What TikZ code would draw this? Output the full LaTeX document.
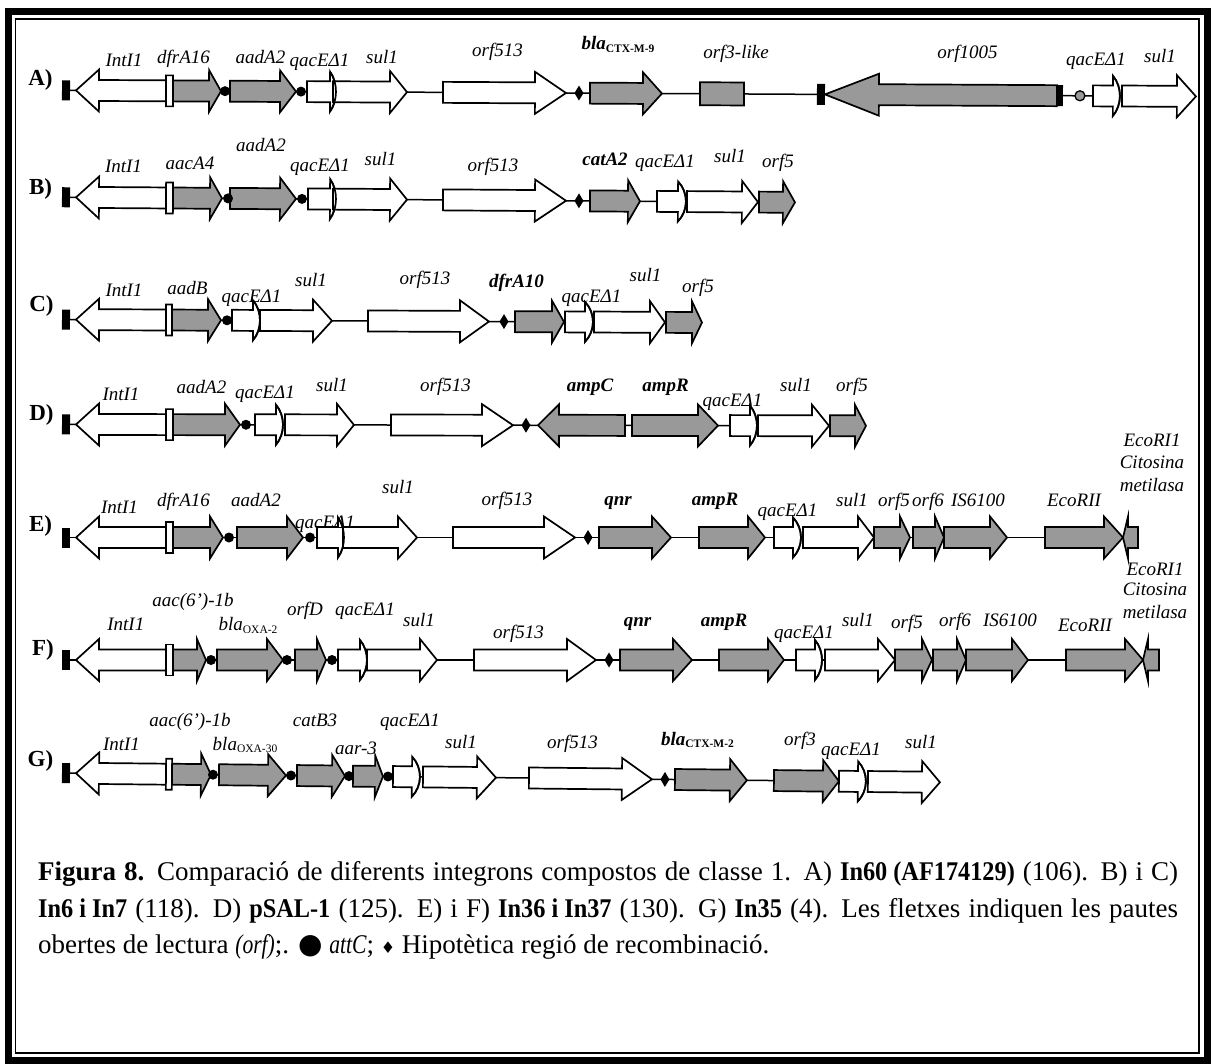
\documentclass[tikz,border=0pt]{standalone}
\usepackage{fontspec}
\setmainfont{Liberation Serif}
\newfontfamily\symf{DejaVu Sans}
\usepackage{graphicx}
\definecolor{gfill}{RGB}{153,153,153}
\tikzset{
  gbox/.style={draw=black, line width=1.7pt},
  bb/.style={draw=black, line width=1.5pt},
  lab/.style={font=\fontsize{19}{21}\selectfont\itshape, inner sep=0pt, anchor=base},
  blab/.style={font=\fontsize{19}{21}\selectfont\bfseries\itshape, inner sep=0pt, anchor=base},
  rowlab/.style={font=\fontsize{23}{25}\selectfont\bfseries, inner sep=0pt, anchor=base},
  captxt/.style={font=\fontsize{27}{30}\selectfont, inner sep=0pt, anchor=base west},
}
% right arrow: shaft start, head base, tip, y, fill
\newcommand{\gRA}[5]{\draw[gbox,fill=#5] (#1,#4-10.5) -- (#2,#4-10.5) -- (#2,#4-21) -- (#3,#4) -- (#2,#4+21) -- (#2,#4+10.5) -- (#1,#4+10.5) -- cycle;}
% left arrow: tip, head base, tail, y, fill
\newcommand{\gLA}[5]{\draw[gbox,fill=#5] (#1,#4) -- (#2,#4-21) -- (#2,#4-10.5) -- (#3,#4-10.5) -- (#3,#4+10.5) -- (#2,#4+10.5) -- (#2,#4+21) -- cycle;}
% qacE with curved head: start, head base, bulge, y
\newcommand{\gQA}[4]{\draw[gbox,fill=white] (#1,#4-10.5) -- (#2,#4-10.5) -- (#2,#4-20) .. controls ({#2+1.33*#3},#4-9) and ({#2+1.33*#3},#4+9) .. (#2,#4+20) -- (#2,#4+10.5) -- (#1,#4+10.5) -- cycle;}
\newcommand{\gQC}[3]{\draw[gbox] (#1,#3-20) .. controls ({#1+1.33*#2},#3-9) and ({#1+1.33*#2},#3+9) .. (#1,#3+20);}
\newcommand{\gDOT}[2]{\fill (#1,#2) circle (5pt);}
\newcommand{\gDIA}[2]{\fill (#1,#2-7.5) -- (#1+4.5,#2) -- (#1,#2+7.5) -- (#1-4.5,#2) -- cycle;}
\newcommand{\gBAR}[1]{\fill (62,#1-10) rectangle (70,#1+10);}
\newcommand{\gSITE}[2]{\draw[gbox,fill=white] (166,#2-15.5) rectangle (#1,#2+15.5);}
\newcommand{\blasub}[2]{#1\raisebox{-2.5pt}{\fontsize{11.5}{12}\selectfont\upshape #2}}
\newcommand{\cb}[1]{\scalebox{0.9}[1]{\bfseries #1}}
\begin{document}
\begin{tikzpicture}[x=1pt,y=-1pt]
\useasboundingbox (0,0) rectangle (1212,1064);
\fill[white] (0,0) rectangle (1212,1064);
% frame
\draw[line width=7pt] (8.5,11.5) rectangle (1207,1060.5);
\draw[line width=1.6pt] (15.5,19) rectangle (1199,1053);

% ---------- Row A ----------
\def\ry{90.5}
\begin{scope}[rotate around={-0.31:(100,\ry)}]
\draw[bb] (70,\ry) -- (1100,\ry);
\gBAR{\ry}
\gLA{76}{99}{166}{\ry}{white}
\gSITE{173}{\ry}
\gRA{173}{209}{221}{\ry}{gfill}
\gRA{230}{280}{296}{\ry}{gfill}
\gQA{307}{330}{6}{\ry}
\gRA{333}{390}{407}{\ry}{white}
\gQC{330}{6}{\ry}
\gRA{443}{535}{566}{\ry}{white}
\gRA{590}{643}{662}{\ry}{gfill}
\draw[gbox,fill=gfill] (700,\ry-11.5) rectangle (744,\ry+11.5);
\fill (817,\ry-10.5) rectangle (825,\ry+10.5);
\gLA{825}{879}{1057}{\ry}{gfill}
\fill (1057,\ry-10.5) rectangle (1063,\ry+10.5);
\draw[line width=1.3pt,fill=gfill] (1080,\ry) circle (5pt);
\gQA{1093}{1113}{7}{\ry}
\gRA{1122}{1177}{1196}{\ry}{white}
\gQC{1113}{7}{\ry}
\gDOT{225}{\ry}\gDOT{301}{\ry}
\gDIA{579}{\ry}
\end{scope}
\node[rowlab] (rA) at (40.5,86) {A)};
\node[lab] (a1) at (124,66.7) {IntI1};
\node[lab] (a2) at (183.5,63.3) {dfrA16};
\node[lab] (a3) at (260.5,63.3) {aadA2};
\node[lab] (a4) at (319.5,66.7) {qacEΔ1};
\node[lab] (a5) at (382,64) {sul1};
\node[lab] (a6) at (497.5,56.5) {orf513};
\node[blab] (a7) at (618,50) {\blasub{bla}{\bfseries CTX-M-9}};
\node[lab] (a8) at (736,59) {orf3-like};
\node[lab] (a9) at (967.5,59) {orf1005};
\node[lab] (a10) at (1096,66) {qacEΔ1};
\node[lab] (a11) at (1160,63) {sul1};

% ---------- Row B ----------
\def\ry{197.5}
\begin{scope}[rotate around={-0.4:(100,\ry)}]
\draw[bb] (70,\ry) -- (760,\ry);
\gBAR{\ry}
\gLA{76}{99}{166}{\ry}{white}
\gSITE{173}{\ry}
\gRA{173}{210}{222}{\ry}{gfill}
\gRA{230}{280}{296}{\ry}{gfill}
\gQA{308}{330}{6}{\ry}
\gRA{333}{390}{407}{\ry}{white}
\gQC{330}{6}{\ry}
\gRA{443}{535}{566}{\ry}{white}
\gRA{590}{628}{640}{\ry}{gfill}
\gQA{657}{678}{8}{\ry}
\gRA{687}{742}{758}{\ry}{white}
\gQC{678}{8}{\ry}
\gRA{759}{783}{795}{\ry}{gfill}
\gDOT{228}{\ry}\gDOT{302}{\ry}
\gDIA{579}{\ry}
\end{scope}
\node[rowlab] (rB) at (40.5,195) {B)};
\node[lab] (b1) at (123.5,173) {IntI1};
\node[lab] (b2) at (190,170) {aacA4};
\node[lab] (b3) at (261,152) {aadA2};
\node[lab] (b4) at (320,171.7) {qacEΔ1};
\node[lab] (b5) at (380.5,165.7) {sul1};
\node[lab] (b6) at (493,171.7) {orf513};
\node[blab] (b7) at (605,165.7) {catA2};
\node[lab] (b8) at (665,168) {qacEΔ1};
\node[lab] (b9) at (730,163) {sul1};
\node[lab] (b10) at (778,168) {orf5};

% ---------- Row C ----------
\def\ry{319.7}
\begin{scope}[rotate around={-0.27:(100,\ry)}]
\draw[bb] (70,\ry) -- (667,\ry);
\gBAR{\ry}
\gLA{76}{99}{166}{\ry}{white}
\gSITE{172}{\ry}
\gRA{172}{208}{221}{\ry}{gfill}
\gQA{232}{253}{7}{\ry}
\gRA{260}{313}{332}{\ry}{white}
\gQC{253}{7}{\ry}
\gRA{368}{460}{489}{\ry}{white}
\gRA{515}{552}{564}{\ry}{gfill}
\gQA{565}{585}{8}{\ry}
\gRA{594}{650}{665}{\ry}{white}
\gQC{585}{8}{\ry}
\gRA{666}{692}{702}{\ry}{gfill}
\gDOT{227}{\ry}
\gDIA{504}{\ry}
\end{scope}
\node[rowlab] (rC) at (41.5,311.7) {C)};
\node[lab] (c1) at (124,296.7) {IntI1};
\node[lab] (c2) at (187.5,295) {aadB};
\node[lab] (c3) at (251.5,303) {qacEΔ1};
\node[lab] (c4) at (311,286.7) {sul1};
\node[lab] (c5) at (425,285) {orf513};
\node[blab] (c6) at (516.5,288) {dfrA10};
\node[lab] (c7) at (591.5,303) {qacEΔ1};
\node[lab] (c8) at (645.5,281.7) {sul1};
\node[lab] (c9) at (698,293) {orf5};

% ---------- Row D ----------
\def\ry{424.5}
\begin{scope}[rotate around={-0.1:(100,\ry)}]
\draw[bb] (70,\ry) -- (831,\ry);
\gBAR{\ry}
\gLA{76}{99}{166}{\ry}{white}
\gSITE{173}{\ry}
\gRA{173}{225}{240}{\ry}{gfill}
\gQA{255}{276}{7}{\ry}
\gRA{285}{337}{354}{\ry}{white}
\gQC{276}{7}{\ry}
\gRA{391}{482}{513}{\ry}{white}
\gLA{538}{559}{625}{\ry}{gfill}
\gRA{632}{698}{718}{\ry}{gfill}
\gQA{730}{750}{7}{\ry}
\gRA{758}{812}{829}{\ry}{white}
\gQC{750}{7}{\ry}
\gRA{830}{855}{866}{\ry}{gfill}
\gDOT{246}{\ry}
\gDIA{526}{\ry}
\end{scope}
\node[rowlab] (rD) at (41.5,420) {D)};
\node[lab] (d1) at (121,400) {IntI1};
\node[lab] (d2) at (201.5,393) {aadA2};
\node[lab] (d3) at (265,398) {qacEΔ1};
\node[lab] (d4) at (332,391.7) {sul1};
\node[lab] (d5) at (445.5,391.7) {orf513};
\node[blab] (d6) at (590,391.7) {ampC};
\node[blab] (d7) at (665.5,391.7) {ampR};
\node[lab] (d8) at (732.5,406) {qacEΔ1};
\node[lab] (d9) at (796,391.7) {sul1};
\node[lab] (d10) at (852,391.7) {orf5};

% ---------- Row E ----------
\def\ry{537.5}
\begin{scope}
\draw[bb] (70,\ry) -- (1124,\ry);
\gBAR{\ry}
\gLA{76}{99}{166}{\ry}{white}
\gSITE{173}{\ry}
\gRA{173}{210}{223}{\ry}{gfill}
\gRA{237}{287}{303}{\ry}{gfill}
\gQA{317}{338}{6}{\ry}
\gRA{343}{398}{417}{\ry}{white}
\gQC{338}{6}{\ry}
\gRA{453}{544}{575}{\ry}{white}
\gRA{599}{652}{671}{\ry}{gfill}
\gRA{699}{748}{765}{\ry}{gfill}
\gQA{774}{793}{8}{\ry}
\gRA{803}{858}{874}{\ry}{white}
\gQC{793}{8}{\ry}
\gRA{874}{900}{910}{\ry}{gfill}
\gRA{913}{935}{944}{\ry}{gfill}
\gRA{944}{990}{1007}{\ry}{gfill}
\gRA{1045}{1104}{1123}{\ry}{gfill}
\gLA{1123}{1128}{1138}{\ry}{gfill}
\gDOT{229}{\ry}\gDOT{310}{\ry}
\gDIA{588}{\ry}
\end{scope}
\node[rowlab] (rE) at (40.5,531.7) {E)};
\node[lab] (e1) at (119.5,513.3) {IntI1};
\node[lab] (e2) at (183.5,506.7) {dfrA16};
\node[lab] (e3) at (256,506.7) {aadA2};
\node[lab] (e4) at (325,528) {qacEΔ1};
\node[lab] (e5) at (398,493.3) {sul1};
\node[lab] (e6) at (507,505) {orf513};
\node[blab] (e7) at (618,505) {qnr};
\node[blab] (e8) at (715,505) {ampR};
\node[lab] (e9) at (787.5,516.7) {qacEΔ1};
\node[lab] (e10) at (852,506.7) {sul1};
\node[lab] (e11) at (894,506.7) {orf5};
\node[lab] (e12) at (928,506.7) {orf6};
\node[lab] (e13) at (978,506.7) {IS6100};
\node[lab] (e14) at (1074,506.7) {EcoRII};
\node[lab] (e15) at (1152,446) {EcoRI1};
\node[lab] (e16) at (1152,468) {Citosina};
\node[lab] (e17) at (1152,491.7) {metilasa};

% ---------- Row F ----------
\def\ry{660}
\begin{scope}
\draw[bb] (70,\ry) -- (1144,\ry);
\gBAR{\ry}
\gLA{76}{99}{166}{\ry}{white}
\gSITE{173}{\ry}
\gRA{173}{197}{206}{\ry}{gfill}
\gRA{217}{267}{283}{\ry}{gfill}
\gRA{295}{317}{326}{\ry}{gfill}
\gQA{338}{360}{7}{\ry}
\gRA{367}{420}{437}{\ry}{white}
\gQC{360}{7}{\ry}
\gRA{474}{567}{596}{\ry}{white}
\gRA{620}{673}{692}{\ry}{gfill}
\gRA{719}{768}{784}{\ry}{gfill}
\gQA{796}{815}{7}{\ry}
\gRA{825}{878}{895}{\ry}{white}
\gQC{815}{7}{\ry}
\gRA{895}{922}{932}{\ry}{gfill}
\gRA{933}{957}{966}{\ry}{gfill}
\gRA{966}{1012}{1028}{\ry}{gfill}
\gRA{1066}{1125}{1143}{\ry}{gfill}
\gLA{1143}{1148}{1159}{\ry}{gfill}
\gDOT{211}{\ry}\gDOT{287}{\ry}\gDOT{332}{\ry}
\gDIA{609}{\ry}
\end{scope}
\node[rowlab] (rF) at (43,655) {F)};
\node[lab] (f1) at (125.8,630.7) {IntI1};
\node[lab] (f2) at (193,606.7) {aac(6’)-1b};
\node[lab] (f3) at (248,630.7) {\blasub{bla}{OXA-2}};
\node[lab] (f4) at (305,615) {orfD};
\node[lab] (f5) at (365,615) {qacEΔ1};
\node[lab] (f6) at (419,626.7) {sul1};
\node[lab] (f7) at (518.5,638) {orf513};
\node[blab] (f8) at (637.5,626.7) {qnr};
\node[blab] (f9) at (724,626.7) {ampR};
\node[lab] (f10) at (804,638) {qacEΔ1};
\node[lab] (f11) at (858,626.7) {sul1};
\node[lab] (f12) at (907,628) {orf5};
\node[lab] (f13) at (955,626.7) {orf6};
\node[lab] (f14) at (1010,626.7) {IS6100};
\node[lab] (f15) at (1085,631.7) {EcoRII};
\node[lab] (f16) at (1155,575) {EcoRI1};
\node[lab] (f17) at (1155,595) {Citosina};
\node[lab] (f18) at (1155,618.3) {metilasa};

% ---------- Row G ----------
\def\ry{773.5}
\begin{scope}[rotate around={-0.6:(100,\ry)}]
\draw[bb] (70,\ry) -- (869,\ry);
\gBAR{\ry}
\gLA{76}{99}{166}{\ry}{white}
\gSITE{172}{\ry}
\gRA{172}{201}{211}{\ry}{gfill}
\gRA{219}{268}{286}{\ry}{gfill}
\gRA{297}{332}{345}{\ry}{gfill}
\gRA{353}{375}{383}{\ry}{gfill}
\gQA{393}{412}{8}{\ry}
\gRA{423}{477}{496}{\ry}{white}
\gQC{412}{8}{\ry}
\gRA{529}{622}{652}{\ry}{white}
\gRA{675}{730}{747}{\ry}{gfill}
\gRA{774}{823}{839}{\ry}{gfill}
\gQA{839}{858}{8}{\ry}
\gRA{868}{922}{940}{\ry}{white}
\gQC{858}{8}{\ry}
\gDOT{213}{\ry}\gDOT{291}{\ry}\gDOT{349}{\ry}\gDOT{388}{\ry}
\gDIA{665}{\ry}
\end{scope}
\node[rowlab] (rG) at (40.5,766.7) {G)};
\node[lab] (g1) at (121.5,750) {IntI1};
\node[lab] (g2) at (190,726.7) {aac(6’)-1b};
\node[lab] (g3) at (245,750) {\blasub{bla}{OXA-30}};
\node[lab] (g4) at (315,726.7) {catB3};
\node[lab] (g5) at (356,754) {aar-3};
\node[lab] (g6) at (410,726.7) {qacEΔ1};
\node[lab] (g7) at (461,748) {sul1};
\node[lab] (g8) at (572.5,748) {orf513};
\node[blab] (g9) at (697.5,745) {\blasub{bla}{\bfseries CTX-M-2}};
\node[lab] (g10) at (800,745) {orf3};
\node[lab] (g11) at (851,755) {qacEΔ1};
\node[lab] (g12) at (921,748) {sul1};

% ---------- Caption ----------
\node[captxt] (cap1) at (38,880) {\makebox[1140pt][s]{\textbf{Figura 8.} Comparació de diferents integrons compostos de classe 1. A) \cb{In60 (AF174129)} (106). B) i C)}};
\node[captxt] (cap2) at (38,917) {\makebox[1140pt][s]{\cb{In6 i In7} (118). D) \cb{pSAL-1} (125). E) i F) \cb{In36 i In37} (130). G) \cb{In35} (4). Les fletxes indiquen les pautes}};
\node[captxt] (cap3) at (38,953) {obertes de lectura \scalebox{0.8}[1]{\itshape (orf)};. {\symf\fontsize{28}{28}\selectfont ●} \scalebox{0.8}[1]{\itshape attC}; {\symf\fontsize{16}{16}\selectfont ♦} Hipotètica regió de recombinació.};
\end{tikzpicture}
\end{document}
